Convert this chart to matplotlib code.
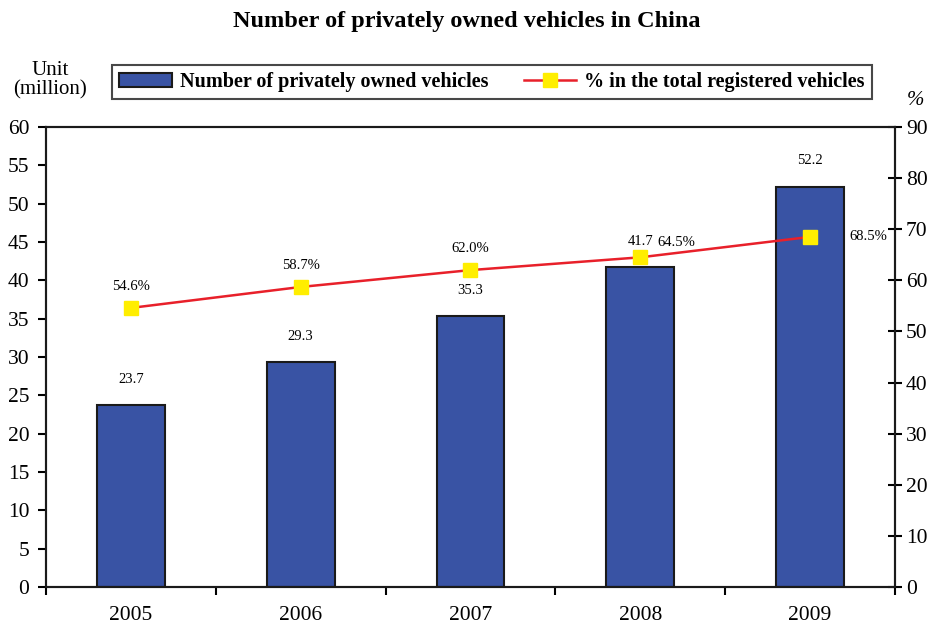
import matplotlib.pyplot as plt
from matplotlib.patches import Patch
from matplotlib.lines import Line2D

years = ["2005", "2006", "2007", "2008", "2009"]
vehicles = [23.7, 29.3, 35.3, 41.7, 52.2]
share = [54.6, 58.7, 62.0, 64.5, 68.5]

plt.rcParams["font.family"] = ["Liberation Serif", "DejaVu Serif"]

fig = plt.figure(figsize=(9.29, 6.28), dpi=100)
ax = fig.add_axes([0.0495, 0.0653, 0.9139, 0.7325])
ax2 = ax.twinx()

x = range(len(years))
ax.bar(x, vehicles, width=0.4, color="#3953a4", edgecolor="#1a1a1a", linewidth=1.5, zorder=2)
ax.set_xlim(-0.5, 4.5)
ax.set_ylim(0, 60)
ax.set_yticks(range(0, 61, 5))
ax.set_xticks([i - 0.5 for i in range(6)])
ax.set_xticklabels([])
ax.set_xticks(list(x), minor=True)
ax.set_xticklabels(years, minor=True)
ax.tick_params(axis="x", which="major", direction="out", length=6, width=1.5)
ax.tick_params(axis="x", which="minor", length=0, pad=14, labelsize=15.5)
ax.tick_params(axis="y", direction="out", length=6, width=1.5, labelsize=15.5, pad=6)

for i, v in enumerate(vehicles):
    ax.annotate(f"{v:.1f}", (i, v), xytext=(0, 14), textcoords="offset points",
                ha="center", va="bottom", fontsize=10.5)

ax2.plot(list(x), share, color="#e8202a", linewidth=1.8, marker="s", markersize=10,
         markerfacecolor="#ffee00", markeredgecolor="#ffee00", zorder=3)
ax2.set_ylim(0, 90)
ax2.set_yticks(range(0, 91, 10))
ax2.tick_params(axis="y", direction="inout", length=10, width=1.5, labelsize=15.5, pad=3)

# label offsets (points) and alignment for the share annotations
offsets = [(0, 11, "center", "bottom"), (0, 11, "center", "bottom"), (0, 11, "center", "bottom"),
           (12, 11, "left", "center"), (28, 0, "left", "center")]
for i, p in enumerate(share):
    dx, dy, ha, va = offsets[i]
    ax2.annotate(f"{p:.1f}%", (i, p), xytext=(dx, dy), textcoords="offset points",
                 ha=ha, va=va, fontsize=10.5)

for a in (ax, ax2):
    for s in a.spines.values():
        s.set_linewidth(1.5)
        s.set_color("#1a1a1a")

fig.text(0.502, 0.965, "Number of privately owned vehicles in China", ha="center", va="center",
         fontsize=17.5, fontweight="bold")
fig.text(0.054, 0.872, "Unit\n(million)", ha="center", va="center", fontsize=15, linespacing=1.0)
fig.text(0.985, 0.840, "%", ha="center", va="center", fontsize=15, style="italic")

handles = [
    Patch(facecolor="#3953a4", edgecolor="#1a1a1a", linewidth=1.5),
    Line2D([], [], color="#e8202a", linewidth=1.8, marker="s", markersize=10,
           markerfacecolor="#ffee00", markeredgecolor="#ffee00"),
]
labels = ["Number of privately owned vehicles", "% in the total registered vehicles"]
leg = fig.legend(handles, labels, loc="center", bbox_to_anchor=(0.5296, 0.870), ncol=2,
                 frameon=True, fancybox=False, edgecolor="#1a1a1a", borderpad=0.35,
                 handlelength=2.6, handletextpad=0.4, columnspacing=1.75,
                 prop={"weight": "bold", "size": 14.5})
leg.get_frame().set_linewidth(1.5)

fig.savefig("out.png", dpi=100)
